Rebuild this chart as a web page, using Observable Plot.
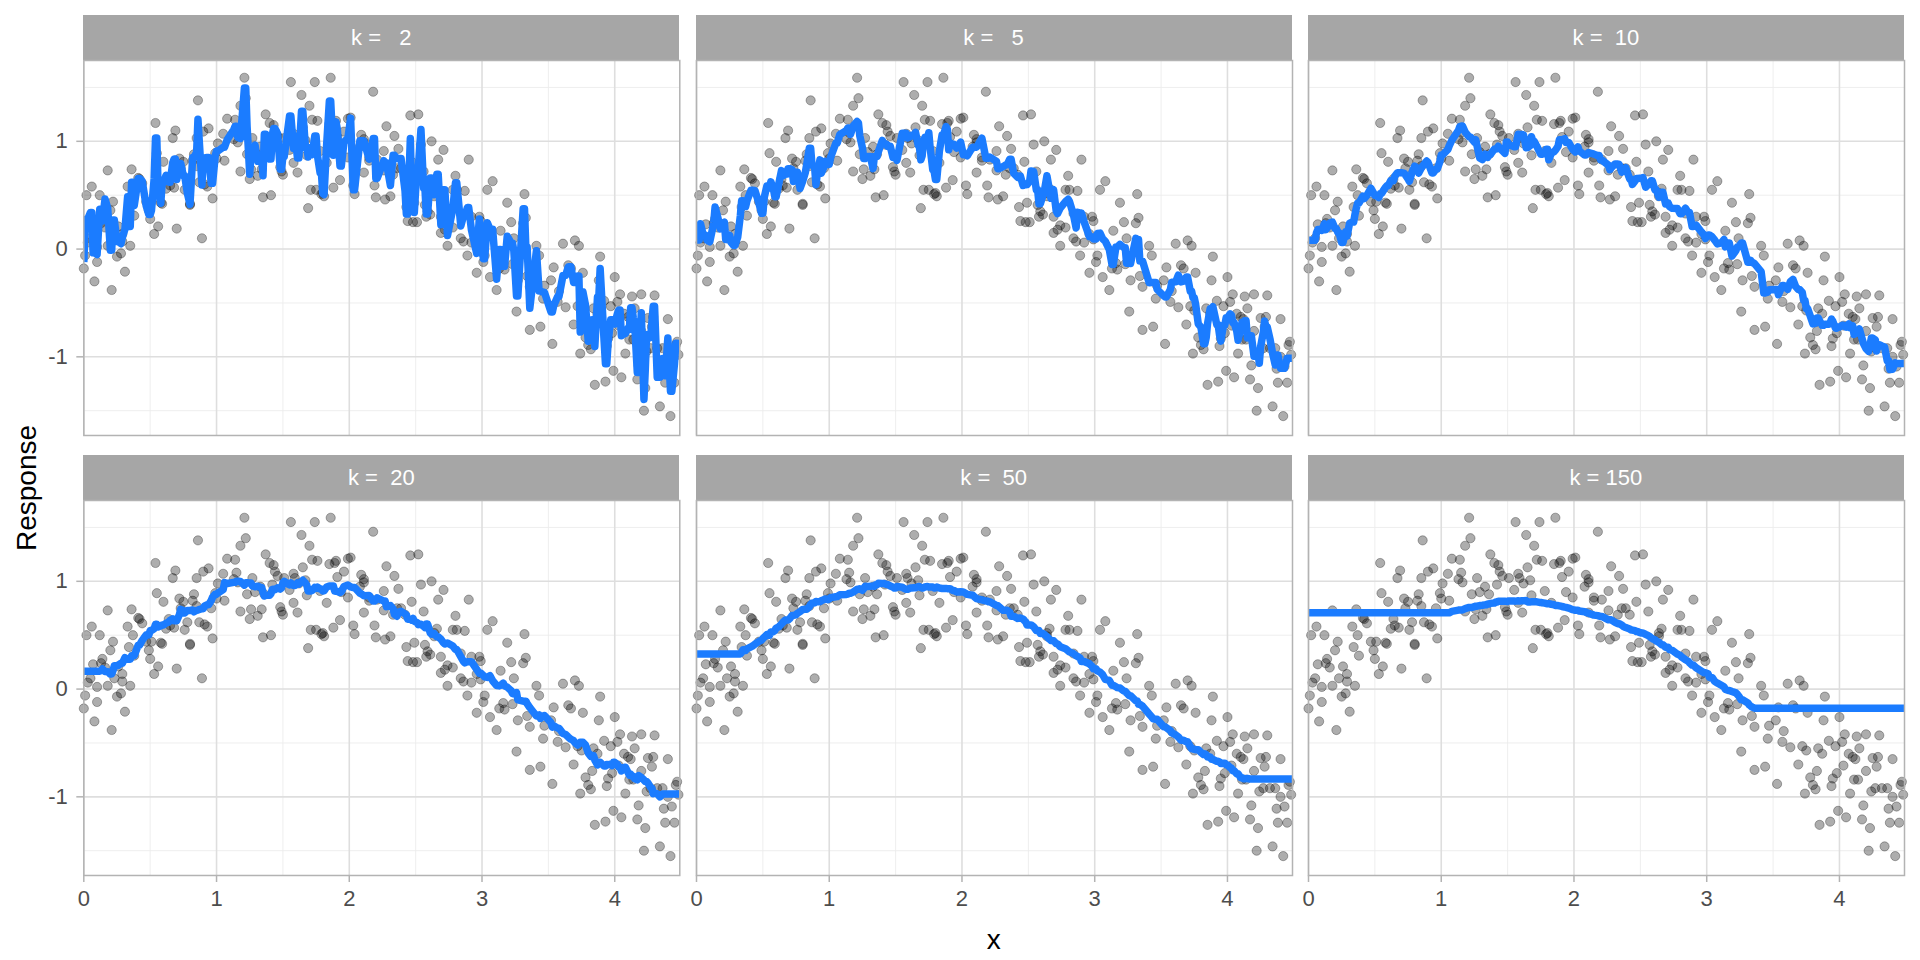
<!DOCTYPE html>
<html><head><meta charset="utf-8">
<script src="https://cdn.jsdelivr.net/npm/d3@7"></script>
<script src="https://cdn.jsdelivr.net/npm/@observablehq/plot@0.6"></script>
<style>
html,body{margin:0;padding:0;background:#fff;}
#root{position:relative;width:1920px;height:960px;overflow:hidden;font-family:"Liberation Sans",Arial,Helvetica,sans-serif;}
.strip{position:absolute;height:45px;background:#a6a6a6;color:#fff;font-size:22px;display:flex;align-items:center;justify-content:center;white-space:pre;}
.panel{position:absolute;}
.panel svg{display:block;overflow:visible;}
.title{position:absolute;font-size:28px;color:#000;white-space:nowrap;}
</style></head><body><div id="root"></div>
<script>
// ---- data (same points in every panel) ----
const xs = [
0.86,0.54,0.69,0.67,0.85,0.90,0.94,1.08,1.05,1.01,0.99,0.55,0.60,0.72,0.75,0.83,0.82,0.85,0.73,1.00,0.96,1.06,0.18,0.36,0.41,0.44,0.33,0.06,0.02,0.12,0.37,0.22,0.20,0.34,0.38,0.47,0.49,0.51,0.58,0.50,0.56,0.53,0.70,0.80,0.62,0.65,0.68,0.76,0.78,0.87,0.91,0.93,0.97,0.89,0.14,0.13,0.16,0.07,0.26,0.29,0.29,0.23,0.05,0.03,0.18,0.35,0.10,0.64,0.80,0.42,0.59,
0.01,0.10,0.00,0.25,0.28,0.31,0.08,0.21,
1.21,1.56,1.74,1.86,2.18,1.64,1.22,1.18,1.70,1.14,1.37,1.40,1.43,1.44,1.46,1.15,1.13,1.16,1.27,1.33,1.42,1.51,1.58,1.65,1.59,1.62,1.67,1.72,1.76,1.85,1.89,1.90,1.99,2.01,1.96,1.91,2.09,2.11,2.11,2.08,
1.23,1.29,1.36,1.55,1.68,1.78,1.94,1.99,2.15,2.15,2.21,1.18,1.26,1.34,1.31,1.25,1.48,1.50,1.49,1.58,1.61,1.83,1.93,1.88,2.03,2.04,2.19,2.20,1.71,1.75,1.79,1.81,1.80,1.35,1.41,1.69,2.11,
2.46,2.52,2.28,2.34,2.26,2.37,2.54,2.62,2.71,2.67,2.90,2.47,2.56,2.36,2.39,2.42,2.33,2.26,2.80,3.08,3.04,2.78,2.81,2.87,2.66,2.64,2.64,2.57,2.49,2.43,2.31,2.27,2.59,2.61,2.58,2.69,2.84,2.92,2.98,2.99,3.19,3.32,3.33,3.31,3.22,3.14,3.24,2.44,2.48,2.51,2.74,2.78,2.72,2.69,2.84,2.86,2.92,2.74,2.96,2.99,
2.89,3.01,3.02,2.96,3.06,3.11,3.13,3.16,3.17,3.23,3.27,3.34,3.36,3.26,3.36,
3.41,3.61,3.70,3.73,
3.43,3.89,3.54,3.65,3.67,3.76,4.00,3.88,3.47,3.58,3.52,3.46,3.57,3.63,3.72,3.75,3.84,3.87,3.92,3.97,4.02,4.04,4.13,4.20,4.30,4.15,4.07,4.10,4.12,4.25,4.29,4.40,4.28,4.20,4.03,3.98,3.95,3.94,3.83,3.78,3.80,3.82,3.74,3.69,3.44,3.53,4.08,4.11,4.14,4.24,4.27,4.32,4.36,4.40,4.43,4.46,4.47,4.48,4.18,4.37,3.99,4.05,3.93,3.85,4.17,4.23,4.38,4.45,4.22,4.34,4.42
];
const ys = [
1.38,1.17,1.10,1.03,1.03,1.09,1.12,1.21,1.07,0.98,0.89,0.89,0.81,0.84,0.81,0.88,0.82,0.77,0.75,0.84,0.75,0.82,0.73,0.74,0.66,0.61,0.58,0.58,0.50,0.50,0.50,0.44,0.36,0.39,0.31,0.44,0.36,0.44,0.43,0.28,0.21,0.14,0.19,0.42,0.56,0.59,0.57,0.55,0.62,0.62,0.60,0.58,0.47,0.10,0.28,0.24,0.20,0.23,0.21,0.14,0.07,0.10,0.10,0.06,0.03,0.03,0.02,0.65,0.41,0.65,0.42,
-0.06,-0.12,-0.18,-0.07,-0.04,-0.21,-0.30,-0.38,
1.59,1.55,1.55,1.59,1.46,1.43,1.40,1.33,1.33,1.20,1.25,1.17,1.15,1.09,1.05,1.08,1.02,0.99,1.03,0.95,0.97,1.03,1.07,1.13,1.03,0.98,1.01,1.20,1.19,1.16,1.17,1.19,1.21,1.22,1.09,1.04,1.06,1.02,0.99,0.95,
0.88,0.90,0.88,0.92,0.87,0.91,0.90,0.85,0.85,0.82,0.83,0.72,0.74,0.74,0.68,0.65,0.76,0.69,0.72,0.80,0.71,0.80,0.64,0.57,0.59,0.51,0.59,0.48,0.55,0.55,0.51,0.49,0.52,0.48,0.50,0.38,0.71,
1.24,1.25,1.14,1.05,0.91,0.93,0.97,1.00,0.92,0.83,0.83,0.81,0.72,0.75,0.75,0.69,0.69,0.73,0.68,0.63,0.55,0.55,0.55,0.54,0.56,0.52,0.49,0.41,0.43,0.39,0.49,0.46,0.35,0.32,0.30,0.30,0.33,0.30,0.30,0.26,0.43,0.51,0.29,0.24,0.25,0.17,0.10,0.26,0.25,0.25,0.22,0.20,0.18,0.15,0.10,0.07,0.06,0.03,0.14,0.09,
-0.06,-0.12,-0.06,-0.22,-0.26,-0.38,-0.18,-0.13,-0.19,-0.14,-0.29,-0.25,-0.35,-0.58,-0.75,
0.03,0.05,0.08,0.03,
-0.06,-0.07,-0.17,-0.15,-0.18,-0.22,-0.26,-0.29,-0.34,-0.39,-0.29,-0.46,-0.49,-0.54,-0.53,-0.57,-0.55,-0.60,-0.48,-0.53,-0.49,-0.42,-0.44,-0.42,-0.43,-0.55,-0.60,-0.63,-0.65,-0.64,-0.63,-0.65,-0.72,-0.76,-0.71,-0.78,-0.83,-0.90,-0.76,-0.82,-0.89,-0.93,-0.97,-0.70,-0.72,-0.88,-0.97,-0.84,-0.84,-0.95,-0.92,-0.92,-0.92,-1.00,-1.09,-0.89,-0.86,-0.98,-1.08,-1.11,-1.13,-1.19,-1.23,-1.26,-1.21,-1.29,-1.24,-1.24,-1.50,-1.46,-1.55
];
const ks = [2, 5, 10, 20, 50, 150];
const stripLabels = ["k =   2", "k =   5", "k =  10", "k =  20", "k =  50", "k = 150"];
const xTicks = [0, 1, 2, 3, 4];
const xMinor = [0.5, 1.5, 2.5, 3.5];
const yTicks = [-1, 0, 1];
const yMinor = [-1.5, -0.5, 0.5, 1.5];
const xDomain = [0, 4.49];
const yDomain = [-1.73, 1.75];

const points = xs.map((x, i) => ({x, y: ys[i]}));

// k-nearest-neighbour mean, evaluated at the sorted x values (plus panel edges)
function knnFit(k) {
  const evalX = [xDomain[0], ...xs.slice().sort((a, b) => a - b), xDomain[1]];
  return evalX.map(x0 => {
    const nn = points.map(p => [Math.abs(p.x - x0), p.y]).sort((a, b) => a[0] - b[0]).slice(0, k);
    return {x: x0, y: d3.mean(nn, d => d[1])};
  });
}

const root = document.getElementById("root");
const colLeft = [83.3, 695.6, 1307.9];
const panelW = 596, panelH = 375, stripH = 45;
const stripTop = [15, 455];
const lineColor = "#1b7cff";
const FONT = '"Liberation Sans", Arial, Helvetica, sans-serif';

ks.forEach((k, idx) => {
  const col = idx % 3, row = Math.floor(idx / 3);
  const showY = col === 0, showX = row === 1;
  const mL = showY ? colLeft[0] : 0;
  const mB = showX ? 50 : 0;
  const strip = document.createElement("div");
  strip.className = "strip";
  strip.style.left = colLeft[col] + "px";
  strip.style.top = stripTop[row] + "px";
  strip.style.width = panelW + "px";
  strip.textContent = stripLabels[idx];
  root.appendChild(strip);

  const chart = Plot.plot({
    width: panelW + mL, height: panelH + mB,
    marginLeft: mL, marginRight: 0, marginTop: 0, marginBottom: mB,
    x: {domain: xDomain, axis: null},
    y: {domain: yDomain, axis: null},
    style: {fontFamily: FONT, fontSize: "22px", background: "transparent", overflow: "visible"},
    marks: [
      Plot.gridX(xMinor, {stroke: "#ececec", strokeOpacity: 1, strokeWidth: 0.9}),
      Plot.gridY(yMinor, {stroke: "#ececec", strokeOpacity: 1, strokeWidth: 0.9}),
      Plot.gridX(xTicks, {stroke: "#dedede", strokeOpacity: 1, strokeWidth: 1.6}),
      Plot.gridY(yTicks, {stroke: "#dedede", strokeOpacity: 1, strokeWidth: 1.6}),
      Plot.dot(points, {x: "x", y: "y", r: 4.6, fill: "black", fillOpacity: 0.32,
        stroke: "black", strokeOpacity: 0.3, strokeWidth: 1}),
      Plot.line(knnFit(k), {x: "x", y: "y", stroke: lineColor, strokeWidth: 7.5,
        strokeLinecap: "butt", strokeLinejoin: "round", clip: true}),
      Plot.frame({stroke: "#b3b3b3", strokeWidth: 1.5}),
      showY ? Plot.axisY(yTicks, {tickSize: 7, tickPadding: 9, stroke: "#b3b3b3", strokeWidth: 1.5,
        fill: "#4d4d4d", fontSize: 22, label: null, tickFormat: d => String(d)}) : null,
      showX ? Plot.axisX(xTicks, {tickSize: 7, tickPadding: 8, stroke: "#b3b3b3", strokeWidth: 1.5,
        fill: "#4d4d4d", fontSize: 22, label: null, tickFormat: d => String(d)}) : null
    ]
  });
  const wrap = document.createElement("div");
  wrap.className = "panel";
  wrap.style.left = (colLeft[col] - mL) + "px";
  wrap.style.top = (stripTop[row] + stripH) + "px";
  wrap.appendChild(chart);
  root.appendChild(wrap);
});

// axis titles
const xt = document.createElement("div");
xt.className = "title";
xt.textContent = "x";
xt.style.left = "0px"; xt.style.width = (2 * 993.7) + "px"; xt.style.textAlign = "center";
xt.style.top = "924px";
root.appendChild(xt);

const yt = document.createElement("div");
yt.className = "title";
yt.textContent = "Response";
yt.style.left = "27px"; yt.style.top = "488px";
yt.style.transform = "translate(-50%, -50%) rotate(-90deg)";
root.appendChild(yt);
</script>
</body></html>
